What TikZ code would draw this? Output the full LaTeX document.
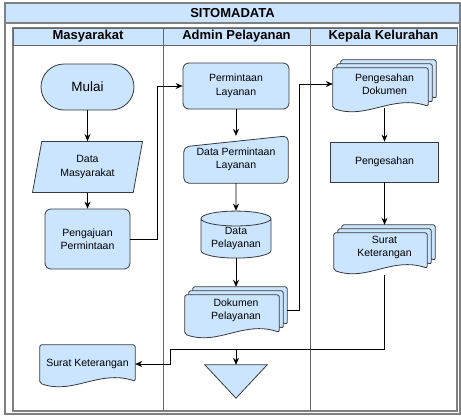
\documentclass[tikz,border=0pt]{standalone}
\usepackage{fontspec}
\setmainfont{Liberation Sans}
\usetikzlibrary{shapes.geometric, arrows.meta, calc, backgrounds}
\definecolor{laneblue}{HTML}{CCE5FF}
\definecolor{shapegray}{HTML}{36393D}
\definecolor{poolgray}{HTML}{808080}

% one page of a document symbol, from its north-west to its south-east corner
\newcommand{\docpage}[2]{%
  \filldraw[docpage] let \p1=(#1), \p2=(#2) in
    (\x1,\y2) -- (\x1,\y1) -- (\x2,\y1) -- ({\x2},{\y2+2pt})
    .. controls ({\x1+0.62*(\x2-\x1)},{\y2+14pt}) and ({\x1+0.35*(\x2-\x1)},{\y2-12pt}) .. (\x1,\y2) -- cycle;}
% three stacked pages inside the box of a node
\newcommand{\multidoc}[1]{%
  \docpage{$(#1.north west)+(8,0)$}{$(#1.south east)+(0,-8)$}
  \docpage{$(#1.north west)+(4,4)$}{$(#1.south east)+(-4,-4)$}
  \docpage{$(#1.north west)+(0,8)$}{$(#1.south east)+(-8,0)$}}

\begin{document}
\begin{tikzpicture}[x=1pt, y=-1pt,
    every node/.style={font=\fontsize{10.5}{13.5}\selectfont, align=center, inner sep=0pt},
    flowbox/.style={draw=shapegray, fill=laneblue, line width=0.8pt},
    terminal/.style={flowbox, rectangle, rounded corners=23pt, minimum width=93pt, minimum height=46pt, font=\fontsize{13.5}{16}\selectfont},
    process/.style={flowbox, rectangle, rounded corners=6pt},
    plainbox/.style={flowbox, rectangle},
    dataio/.style={flowbox, trapezium, trapezium left angle=68, trapezium right angle=112, trapezium stretches body, minimum width=110pt, minimum height=51pt},
    database/.style={flowbox, cylinder, shape border rotate=90, aspect=0.3, minimum width=70pt, minimum height=47pt},
    docbox/.style={rectangle},
    docpage/.style={draw=shapegray, fill=laneblue, line width=0.8pt, rounded corners=2pt},
    flowarrow/.style={-{Stealth[length=7pt, width=6pt]}, line width=0.8pt},
    poolline/.style={draw=poolgray, line width=1.3pt},
    laneline/.style={draw=poolgray!80!black, line width=0.8pt},
    lanetitle/.style={font=\bfseries\fontsize{13}{15}\selectfont}]
\useasboundingbox (0,0) rectangle (461,416);

% pool and lanes
\draw[poolline] (5,3) rectangle (460,414);
\filldraw[poolline, fill=laneblue] (5,3) rectangle (460,23);
\node[lanetitle] (pooltitle) at (232.5,13) {SITOMADATA};
\draw[poolline] (13,28) rectangle (457,411);
\filldraw[laneline, fill=laneblue] (13,28) rectangle (457,45);
\foreach \x in {163,310} \draw[laneline] (\x,28) -- (\x,411);
\foreach \x/\name/\id in {88/Masyarakat/1, 236.5/Admin Pelayanan/2, 383.5/Kepala Kelurahan/3}
    \node[lanetitle] (lane\id) at (\x,36.5) {\name};

% Masyarakat
\node[terminal] (mulai) at (87.5,87) {Mulai};
\node[dataio] (datamas) at (87.5,167) {Data\\Masyarakat};
\node[process, minimum width=85pt, minimum height=60pt] (pengajuan) at (87.5,239) {Pengajuan\\Permintaan};
\node[docbox, minimum width=95pt, minimum height=38pt] (suratmas) at (87.5,364) {Surat Keterangan};

% Admin Pelayanan
\node[process, minimum width=106pt, minimum height=46pt] (permintaan) at (236,86) {Permintaan\\Layanan};
\node[docbox, minimum width=104pt, minimum height=47pt] (datapermintaan) at (236,159.5) {Data Permintaan\\Layanan};
\node[database] (datapel) at (236,238.5) {Data\\Pelayanan};
\node[docbox, minimum width=102pt, minimum height=47pt] (dokumen) at (236,310.5) {Dokumen\\Pelayanan};
\node[docbox, minimum width=62pt, minimum height=33pt] (offpage) at (236,381.5) {};

% Kepala Kelurahan
\node[docbox, minimum width=103pt, minimum height=48pt] (pengdok) at (384.5,84) {Pengesahan\\Dokumen};
\node[plainbox, minimum width=108pt, minimum height=40pt] (pengesahan) at (384.5,162) {Pengesahan};
\node[docbox, minimum width=101pt, minimum height=45pt] (suratket) at (384.5,247.5) {Surat\\Keterangan};

% outlines behind the texts
\begin{pgfonlayer}{background}
    \filldraw[docpage, rounded corners=5pt] ($(datapermintaan.north west)+(0,11)$) -- (datapermintaan.north east)
        -- (datapermintaan.south east) -- (datapermintaan.south west) -- cycle;
    \docpage{suratmas.north west}{suratmas.south east}
    \multidoc{dokumen}
    \multidoc{pengdok}
    \multidoc{suratket}
\end{pgfonlayer}
\filldraw[docpage, rounded corners=0pt] (offpage.north west) -- (offpage.north east) -- (offpage.south) -- cycle;

% connectors
\draw[flowarrow] (mulai) -- (datamas);
\draw[flowarrow] (datamas) -- (pengajuan);
\draw[flowarrow] (pengajuan.east) -- ++(27,0) |- (permintaan.west);
\draw[flowarrow] (permintaan) -- (datapermintaan);
\draw[flowarrow] (datapermintaan) -- (datapel);
\draw[flowarrow] (datapel) -- (dokumen);
\draw[flowarrow] (dokumen.east) -- ++(12,0) |- (pengdok.west);
\draw[flowarrow] (pengdok) -- (pengesahan);
\draw[flowarrow] (pengesahan) -- (suratket);
\coordinate (bend) at (170,349);
\coordinate (tap) at (dokumen.south |- bend);
\draw[flowarrow, shorten <=5pt] (suratket.south) |- (bend) |- (suratmas.east);
\draw[flowarrow] (tap) -- (offpage.north);
\end{tikzpicture}
\end{document}
